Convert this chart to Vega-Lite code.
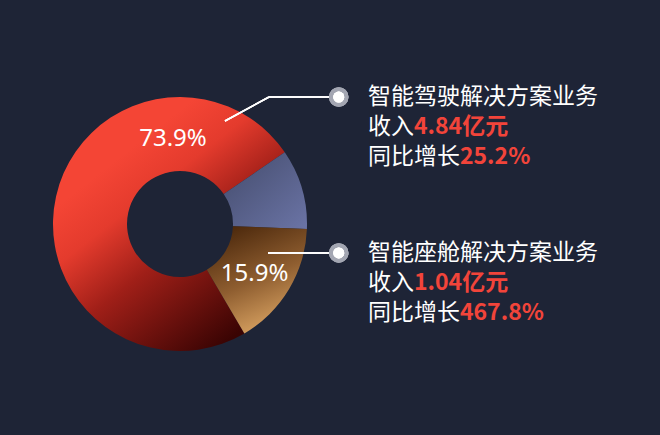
{
  "$schema": "https://vega.github.io/schema/vega-lite/v6.json",
  "width": 660,
  "height": 435,
  "autosize": {"type": "fit", "contains": "padding"},
  "padding": 0,
  "background": "#1e2436",
  "config": {"view": {"stroke": null}},
  "data": {
    "values": [
      {"segment": "智能驾驶解决方案业务", "share": 73.9, "label": "73.9%", "revenue": "4.84亿元", "growth": "25.2%"},
      {"segment": "其他业务", "share": 10.2, "label": "", "revenue": "", "growth": ""},
      {"segment": "智能座舱解决方案业务", "share": 15.9, "label": "15.9%", "revenue": "1.04亿元", "growth": "467.8%"}
    ]
  },
  "transform": [
    {"stack": "share", "groupby": [], "sort": [{"field": "share", "order": "ascending"}], "as": ["t0", "t1"]}
  ],
  "encoding": {
    "x": {"type": "quantitative", "scale": {"domain": [-1.4173, 3.7795], "nice": false, "zero": false}, "axis": null},
    "y": {"type": "quantitative", "scale": {"domain": [-1.6614, 1.7638], "nice": false, "zero": false}, "axis": null}
  },
  "layer": [
    {
      "transform": [{"filter": "datum.share == 73.9"}],
      "mark": {"type": "arc", "outerRadius": 127, "innerRadius": 53,
        "fill": {"gradient": "linear", "x1": 0.2, "y1": 0.3, "x2": 0.7, "y2": 1,
          "stops": [{"offset": 0, "color": "#f44535"}, {"offset": 0.22, "color": "#e43b2d"}, {"offset": 0.5, "color": "#a01f18"}, {"offset": 1, "color": "#3a0403"}]}},
      "encoding": {
        "x": {"datum": 0}, "y": {"datum": 0},
        "theta": {"field": "t0", "type": "quantitative", "scale": {"domain": [0, 100], "range": [0.97, 7.2532]}},
        "theta2": {"field": "t1"}
      }
    },
    {
      "transform": [{"filter": "datum.share == 10.2"}],
      "mark": {"type": "arc", "outerRadius": 127, "innerRadius": 53,
        "fill": {"gradient": "linear", "x1": 0, "y1": 0, "x2": 1, "y2": 1,
          "stops": [{"offset": 0, "color": "#434b6b"}, {"offset": 1, "color": "#6b74a6"}]}},
      "encoding": {
        "x": {"datum": 0}, "y": {"datum": 0},
        "theta": {"field": "t0", "type": "quantitative", "scale": {"domain": [0, 100], "range": [0.97, 7.2532]}},
        "theta2": {"field": "t1"}
      }
    },
    {
      "transform": [{"filter": "datum.share == 15.9"}],
      "mark": {"type": "arc", "outerRadius": 127, "innerRadius": 53,
        "fill": {"gradient": "linear", "x1": 0.3, "y1": 0, "x2": 0.7, "y2": 1,
          "stops": [{"offset": 0, "color": "#4e2a0d"}, {"offset": 0.5, "color": "#8f5e30"}, {"offset": 1, "color": "#e2ab68"}]}},
      "encoding": {
        "x": {"datum": 0}, "y": {"datum": 0},
        "theta": {"field": "t0", "type": "quantitative", "scale": {"domain": [0, 100], "range": [0.97, 7.2532]}},
        "theta2": {"field": "t1"}
      }
    },
    {
      "transform": [{"filter": "datum.share == 73.9"}],
      "mark": {"type": "text", "font": "Noto Sans", "fontSize": 24, "color": "#ffffff", "align": "center", "baseline": "middle"},
      "encoding": {"x": {"datum": -0.055}, "y": {"datum": 0.669}, "text": {"field": "label"}}
    },
    {
      "transform": [{"filter": "datum.share == 15.9"}],
      "mark": {"type": "text", "font": "Noto Sans", "fontSize": 24, "color": "#ffffff", "align": "center", "baseline": "middle"},
      "encoding": {"x": {"datum": 0.587}, "y": {"datum": -0.394}, "text": {"field": "label"}}
    },
    {
      "mark": {"type": "rule", "color": "#ffffff", "strokeWidth": 1.5},
      "encoding": {"x": {"datum": 0.354}, "y": {"datum": 0.811}, "x2": {"datum": 0.701}, "y2": {"datum": 1.0}}
    },
    {
      "mark": {"type": "rule", "color": "#ffffff", "strokeWidth": 1.5},
      "encoding": {"x": {"datum": 0.701}, "y": {"datum": 1.0}, "x2": {"datum": 1.25}, "y2": {"datum": 1.0}}
    },
    {
      "mark": {"type": "rule", "color": "#ffffff", "strokeWidth": 1.5},
      "encoding": {"x": {"datum": 0.693}, "y": {"datum": -0.228}, "x2": {"datum": 1.25}, "y2": {"datum": -0.228}}
    },
    {
      "mark": {"type": "point", "shape": "circle", "filled": true, "size": 380, "color": "#a3a6b2", "opacity": 1},
      "encoding": {"x": {"datum": 1.25}, "y": {"datum": 1.0}}
    },
    {
      "mark": {"type": "point", "shape": "circle", "filled": true, "size": 380, "color": "#a3a6b2", "opacity": 1},
      "encoding": {"x": {"datum": 1.25}, "y": {"datum": -0.228}}
    },
    {
      "mark": {"type": "point", "shape": "circle", "filled": true, "size": 120, "color": "#ffffff", "opacity": 1},
      "encoding": {"x": {"datum": 1.25}, "y": {"datum": 1.0}}
    },
    {
      "mark": {"type": "point", "shape": "circle", "filled": true, "size": 120, "color": "#ffffff", "opacity": 1},
      "encoding": {"x": {"datum": 1.25}, "y": {"datum": -0.228}}
    },
    {
      "transform": [{"filter": "datum.share == 73.9"}],
      "mark": {"type": "text", "font": "Noto Sans CJK SC", "fontSize": 23, "color": "#ffffff", "align": "left", "baseline": "middle"},
      "encoding": {"x": {"datum": 1.48}, "y": {"datum": 1.0}, "text": {"field": "segment"}}
    },
    {
      "transform": [{"filter": "datum.share == 73.9"}],
      "mark": {"type": "text", "font": "Noto Sans CJK SC", "fontSize": 23, "color": "#ffffff", "align": "left", "baseline": "middle", "dy": 30, "text": "收入"},
      "encoding": {"x": {"datum": 1.48}, "y": {"datum": 1.0}}
    },
    {
      "transform": [{"filter": "datum.share == 73.9"}],
      "mark": {"type": "text", "font": "Noto Sans CJK SC", "fontSize": 23, "fontWeight": "bold", "color": "#f2443a", "align": "left", "baseline": "middle", "dy": 30, "dx": 46},
      "encoding": {"x": {"datum": 1.48}, "y": {"datum": 1.0}, "text": {"field": "revenue"}}
    },
    {
      "transform": [{"filter": "datum.share == 73.9"}],
      "mark": {"type": "text", "font": "Noto Sans CJK SC", "fontSize": 23, "color": "#ffffff", "align": "left", "baseline": "middle", "dy": 60, "text": "同比增长"},
      "encoding": {"x": {"datum": 1.48}, "y": {"datum": 1.0}}
    },
    {
      "transform": [{"filter": "datum.share == 73.9"}],
      "mark": {"type": "text", "font": "Noto Sans CJK SC", "fontSize": 23, "fontWeight": "bold", "color": "#f2443a", "align": "left", "baseline": "middle", "dy": 60, "dx": 92},
      "encoding": {"x": {"datum": 1.48}, "y": {"datum": 1.0}, "text": {"field": "growth"}}
    },
    {
      "transform": [{"filter": "datum.share == 15.9"}],
      "mark": {"type": "text", "font": "Noto Sans CJK SC", "fontSize": 23, "color": "#ffffff", "align": "left", "baseline": "middle"},
      "encoding": {"x": {"datum": 1.48}, "y": {"datum": -0.228}, "text": {"field": "segment"}}
    },
    {
      "transform": [{"filter": "datum.share == 15.9"}],
      "mark": {"type": "text", "font": "Noto Sans CJK SC", "fontSize": 23, "color": "#ffffff", "align": "left", "baseline": "middle", "dy": 30, "text": "收入"},
      "encoding": {"x": {"datum": 1.48}, "y": {"datum": -0.228}}
    },
    {
      "transform": [{"filter": "datum.share == 15.9"}],
      "mark": {"type": "text", "font": "Noto Sans CJK SC", "fontSize": 23, "fontWeight": "bold", "color": "#f2443a", "align": "left", "baseline": "middle", "dy": 30, "dx": 46},
      "encoding": {"x": {"datum": 1.48}, "y": {"datum": -0.228}, "text": {"field": "revenue"}}
    },
    {
      "transform": [{"filter": "datum.share == 15.9"}],
      "mark": {"type": "text", "font": "Noto Sans CJK SC", "fontSize": 23, "color": "#ffffff", "align": "left", "baseline": "middle", "dy": 60, "text": "同比增长"},
      "encoding": {"x": {"datum": 1.48}, "y": {"datum": -0.228}}
    },
    {
      "transform": [{"filter": "datum.share == 15.9"}],
      "mark": {"type": "text", "font": "Noto Sans CJK SC", "fontSize": 23, "fontWeight": "bold", "color": "#f2443a", "align": "left", "baseline": "middle", "dy": 60, "dx": 92},
      "encoding": {"x": {"datum": 1.48}, "y": {"datum": -0.228}, "text": {"field": "growth"}}
    }
  ]
}
